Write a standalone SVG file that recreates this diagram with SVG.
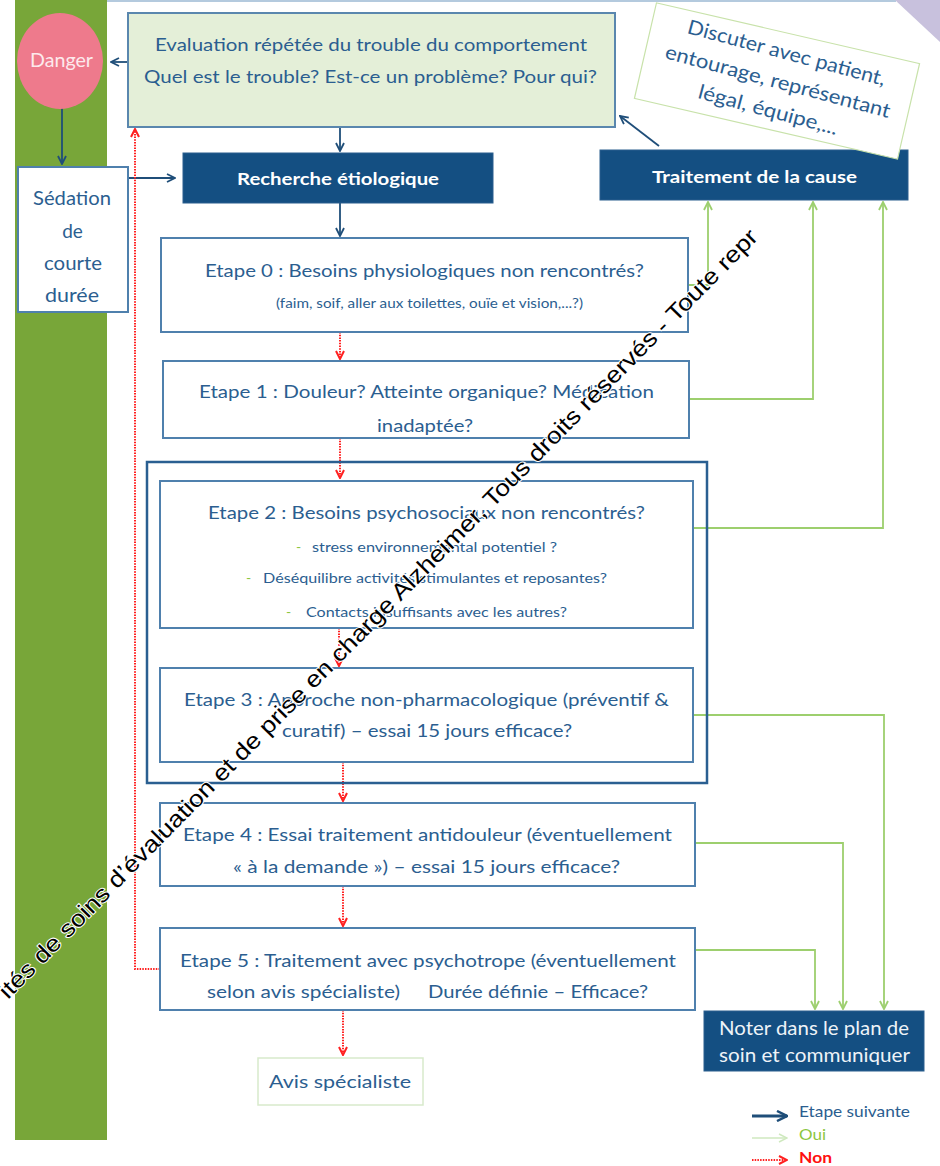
<svg xmlns="http://www.w3.org/2000/svg" width="940" height="1166" viewBox="0 0 940 1166">
<defs>
<style>
.t{font-family:Lato,"Open Sans","Liberation Sans",sans-serif;fill:#2b5e90;font-size:18px}
.c{text-anchor:middle}
.box{fill:#fff;stroke:#4f80ad;stroke-width:2}
.dk{fill:#144f82;stroke:#2b5f8e;stroke-width:1}
.wt{fill:#fff;font-weight:bold}
.bl{stroke:#1f4e79;stroke-width:1.8;fill:none}
.gr{stroke:#9dcf6e;stroke-width:1.8;fill:none}
.rd{stroke:#ff2020;stroke-width:2;stroke-dasharray:1.5 1.2;fill:none}
.sm{font-size:14px}
.dash{fill:#8dc63f;font-size:14px}
</style>
<marker id="ab" viewBox="0 0 10 10" refX="9" refY="5" markerWidth="10" markerHeight="10" markerUnits="userSpaceOnUse" orient="auto"><path d="M1,1 L9,5 L1,9" fill="none" stroke="#1f4e79" stroke-width="1.8"/></marker>
<marker id="ag" viewBox="0 0 10 10" refX="9" refY="5" markerWidth="10" markerHeight="10" markerUnits="userSpaceOnUse" orient="auto"><path d="M1,1 L9,5 L1,9" fill="none" stroke="#9dcf6e" stroke-width="1.8"/></marker>
<marker id="ar" viewBox="0 0 10 10" refX="9" refY="5" markerWidth="10" markerHeight="10" markerUnits="userSpaceOnUse" orient="auto"><path d="M1,1 L9,5 L1,9" fill="none" stroke="#ff2020" stroke-width="2"/></marker>
<marker id="agl" viewBox="0 0 10 10" refX="9" refY="5" markerWidth="10" markerHeight="10" markerUnits="userSpaceOnUse" orient="auto"><path d="M1,1 L9,5 L1,9" fill="none" stroke="#cfe9bf" stroke-width="1.5"/></marker>
<marker id="abL" viewBox="0 0 12 12" refX="11" refY="6" markerWidth="12" markerHeight="12" markerUnits="userSpaceOnUse" orient="auto"><path d="M1,1 L11,6 L1,11" fill="none" stroke="#1f4e79" stroke-width="2.5"/></marker>
</defs>
<rect width="940" height="1166" fill="#fff"/>
<line x1="107" y1="1" x2="896" y2="1" stroke="#9bb8d3" stroke-width="1.5"/>
<polygon points="895,0 940,0 940,42" fill="#c8c1dd"/>
<rect x="15" y="0" width="92" height="1140" fill="#78a639"/>

<g id="connectors">
<path class="bl" d="M62,108 V164" marker-end="url(#ab)"/>
<path class="bl" d="M128,178 H175" marker-end="url(#ab)"/>
<path class="bl" d="M127,62 H111" marker-end="url(#ab)"/>
<path class="bl" d="M340,127 V151" marker-end="url(#ab)"/>
<path class="bl" d="M340,203 V236" marker-end="url(#ab)"/>
<path class="bl" d="M659,146 L620,116" marker-end="url(#ab)"/>
<path class="gr" d="M688,285 H708 V202" marker-end="url(#ag)"/>
<path class="gr" d="M689,399 H813 V202" marker-end="url(#ag)"/>
<path class="gr" d="M693,528 H883 V202" marker-end="url(#ag)"/>
<path class="gr" d="M693,715 H884 V1009" marker-end="url(#ag)"/>
<path class="gr" d="M695,843 H843 V1009" marker-end="url(#ag)"/>
<path class="gr" d="M695,950 H815 V1009" marker-end="url(#ag)"/>
<path class="rd" d="M340,332 V359" marker-end="url(#ar)"/>
<path class="rd" d="M340,438 V478" marker-end="url(#ar)"/>
<path class="rd" d="M339,628 V666" marker-end="url(#ar)"/>
<path class="rd" d="M343,762 V801" marker-end="url(#ar)"/>
<path class="rd" d="M343,886 V926" marker-end="url(#ar)"/>
<path class="rd" d="M343,1010 V1055" marker-end="url(#ar)"/>
<path class="rd" d="M160,969 H135 V129" marker-end="url(#ar)"/>
</g>

<g id="danger">
<ellipse cx="60" cy="61" rx="43" ry="48" fill="#ee7a8c"/>
<text class="t c" x="61.5" y="67" style="fill:#fde9ec;font-size:19px" textLength="63" lengthAdjust="spacingAndGlyphs">Danger</text>
</g>

<g id="sedation">
<rect class="box" x="18" y="167" width="110" height="145"/>
<text class="t c" x="72" y="205" style="font-size:19px" textLength="78" lengthAdjust="spacingAndGlyphs">Sédation</text>
<text class="t c" x="72.5" y="238" style="font-size:19px">de</text>
<text class="t c" x="73" y="270" style="font-size:19px" textLength="58" lengthAdjust="spacingAndGlyphs">courte</text>
<text class="t c" x="72" y="302" style="font-size:19px" textLength="54" lengthAdjust="spacingAndGlyphs">durée</text>
</g>

<g id="evaluation">
<rect x="128" y="13" width="487" height="114" fill="#e4efd8" stroke="#5a87ae" stroke-width="2"/>
<text class="t c" x="371" y="51" textLength="432" lengthAdjust="spacingAndGlyphs">Evaluation répétée du trouble du comportement</text>
<text class="t c" x="370.5" y="83" textLength="453" lengthAdjust="spacingAndGlyphs">Quel est le trouble? Est-ce un problème? Pour qui?</text>
</g>

<g id="recherche">
<rect class="dk" x="183" y="153" width="310" height="50"/>
<text class="t c wt" x="338" y="185" style="fill:#fff;font-size:17px" textLength="202" lengthAdjust="spacingAndGlyphs">Recherche étiologique</text>
</g>

<g id="traitement">
<rect class="dk" x="600" y="150" width="308" height="50"/>
<text class="t c wt" x="754.5" y="183" style="fill:#fff;font-size:17px" textLength="205" lengthAdjust="spacingAndGlyphs">Traitement de la cause</text>
</g>

<g id="discuter" transform="translate(777,81) rotate(13)">
<rect x="-135" y="-49" width="270" height="98" fill="#fff" stroke="#c8e2aa" stroke-width="1.2"/>
<g transform="rotate(2)">
<text class="t c" x="2" y="-23" style="font-size:20px" textLength="204" lengthAdjust="spacingAndGlyphs">Discuter avec patient,</text>
<text class="t c" x="1" y="7" style="font-size:20px" textLength="232" lengthAdjust="spacingAndGlyphs">entourage, représentant</text>
<text class="t c" x="-1" y="37" style="font-size:20px" textLength="144" lengthAdjust="spacingAndGlyphs">légal, équipe,...</text>
</g>
</g>

<g id="etape0">
<rect class="box" x="161" y="238" width="527" height="94"/>
<text class="t c" x="424.5" y="277" textLength="439" lengthAdjust="spacingAndGlyphs">Etape 0 : Besoins physiologiques non rencontrés?</text>
<text class="t c" x="429.5" y="308" style="font-size:13px" textLength="307" lengthAdjust="spacingAndGlyphs">(faim, soif, aller aux toilettes, ouïe et vision,...?)</text>
</g>

<g id="etape1">
<rect class="box" x="163" y="361" width="526" height="77"/>
<text class="t c" x="426.5" y="398" textLength="455" lengthAdjust="spacingAndGlyphs">Etape 1 : Douleur? Atteinte organique? Médication</text>
<text class="t c" x="425" y="432" textLength="96" lengthAdjust="spacingAndGlyphs">inadaptée?</text>
</g>

<g id="groupe23">
<rect x="147" y="462" width="560" height="321" fill="none" stroke="#2a5f91" stroke-width="2.5"/>
</g>

<g id="etape2">
<rect class="box" x="160" y="481" width="533" height="147"/>
<text class="t c" x="426.5" y="519" textLength="437" lengthAdjust="spacingAndGlyphs">Etape 2 : Besoins psychosociaux non rencontrés?</text>
<text class="t dash" x="296" y="552">-</text>
<text class="t sm" x="312" y="552" textLength="245" lengthAdjust="spacingAndGlyphs">stress environnemental potentiel ?</text>
<text class="t dash" x="246" y="583">-</text>
<text class="t sm" x="263" y="583" textLength="344" lengthAdjust="spacingAndGlyphs">Déséquilibre activités stimulantes et reposantes?</text>
<text class="t dash" x="286" y="617">-</text>
<text class="t sm" x="306" y="617" textLength="261" lengthAdjust="spacingAndGlyphs">Contacts insuffisants avec les autres?</text>
</g>

<g id="etape3">
<rect class="box" x="160" y="668" width="533" height="94"/>
<text class="t c" x="426.5" y="706" textLength="485" lengthAdjust="spacingAndGlyphs">Etape 3 : Approche non-pharmacologique (préventif &amp;</text>
<text class="t c" x="427" y="737" textLength="290" lengthAdjust="spacingAndGlyphs">curatif) – essai 15 jours efficace?</text>
</g>

<g id="etape4">
<rect class="box" x="160" y="803" width="535" height="83"/>
<text class="t c" x="427.5" y="841" textLength="489" lengthAdjust="spacingAndGlyphs">Etape 4 : Essai traitement antidouleur (éventuellement</text>
<text class="t c" x="426.5" y="873" textLength="387" lengthAdjust="spacingAndGlyphs">« à la demande ») – essai 15 jours efficace?</text>
</g>

<g id="etape5">
<rect class="box" x="160" y="928" width="535" height="82"/>
<text class="t c" x="428" y="967" textLength="496" lengthAdjust="spacingAndGlyphs">Etape 5 : Traitement avec psychotrope (éventuellement</text>
<text class="t" x="207" y="998" textLength="193" lengthAdjust="spacingAndGlyphs">selon avis spécialiste)</text>
<text class="t" x="428" y="998" textLength="220" lengthAdjust="spacingAndGlyphs">Durée définie – Efficace?</text>
</g>

<g id="avis">
<rect x="258" y="1058" width="165" height="47" fill="#fff" stroke="#d8eacb" stroke-width="1.5"/>
<text class="t c" x="340" y="1088" textLength="142" lengthAdjust="spacingAndGlyphs">Avis spécialiste</text>
</g>

<g id="noter">
<rect class="dk" x="704" y="1011" width="220" height="60"/>
<text class="t c" x="814" y="1035" style="fill:#eef3f8;font-size:19px" textLength="190" lengthAdjust="spacingAndGlyphs">Noter dans le plan de</text>
<text class="t c" x="814.5" y="1062" style="fill:#eef3f8;font-size:19px" textLength="191" lengthAdjust="spacingAndGlyphs">soin et communiquer</text>
</g>

<g id="legende">
<path d="M752,1116 H787" stroke="#1f4e79" stroke-width="3" fill="none" marker-end="url(#abL)"/>
<text class="t" x="799" y="1117" style="font-size:15px" textLength="111" lengthAdjust="spacingAndGlyphs">Etape suivante</text>
<path d="M752,1138 H787" stroke="#cfe9bf" stroke-width="1.5" fill="none" marker-end="url(#agl)"/>
<text class="t" x="799" y="1140" style="fill:#8dc63f;font-size:15px" textLength="27" lengthAdjust="spacingAndGlyphs">Oui</text>
<path class="rd" d="M752,1160 H787" marker-end="url(#ar)"/>
<text class="t" x="799" y="1163" style="fill:#ff1010;font-size:15px;font-weight:bold" textLength="33" lengthAdjust="spacingAndGlyphs">Non</text>
</g>

<text x="8" y="1000" transform="rotate(-45.4 8 1000)" font-family="'Liberation Sans',Arial,sans-serif" font-size="23" fill="#000" stroke="#fff" stroke-width="2" paint-order="stroke" textLength="1070" lengthAdjust="spacingAndGlyphs">ités de soins d’évaluation et de prise en charge Alzheimer, Tous droits réservés - Toute repr</text>
</svg>
